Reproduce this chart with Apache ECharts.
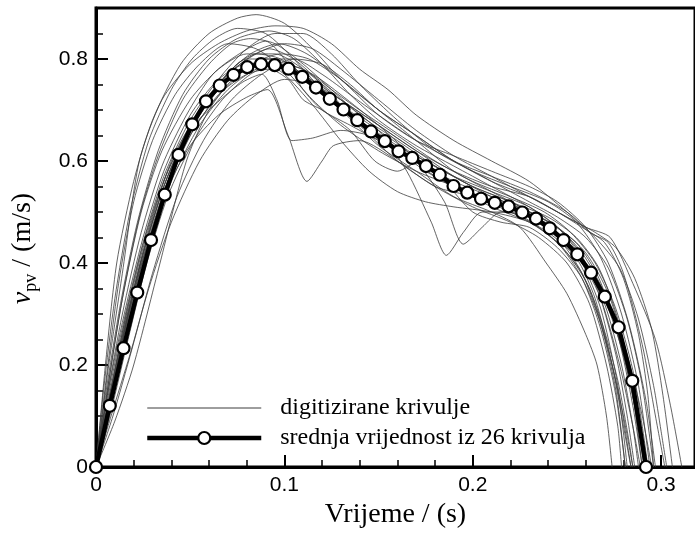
<!DOCTYPE html>
<html><head><meta charset="utf-8">
<script src="https://cdn.jsdelivr.net/npm/echarts@6/dist/echarts.min.js"></script>
<style>html,body{margin:0;padding:0;background:#fff}#c{width:695px;height:534px}</style>
</head><body><div id="c"></div>
<script>
// Mean curve (srednja vrijednost iz 26 krivulja)
const meanTime = [0, 0.0073, 0.0146, 0.0219, 0.0292, 0.0365, 0.0438, 0.0511, 0.0584, 0.0657, 0.073, 0.0803, 0.0876, 0.0949, 0.1022, 0.1095, 0.1168, 0.1241, 0.1314, 0.1387, 0.146, 0.1533, 0.1606, 0.1679, 0.1752, 0.1825, 0.1898, 0.1971, 0.2044, 0.2117, 0.219, 0.2263, 0.2336, 0.2409, 0.2482, 0.2555, 0.2628, 0.2701, 0.2774, 0.2847, 0.292];
const meanValue = [0, 0.12, 0.233, 0.342, 0.445, 0.534, 0.612, 0.672, 0.717, 0.748, 0.769, 0.784, 0.790, 0.788, 0.781, 0.765, 0.744, 0.722, 0.701, 0.680, 0.658, 0.639, 0.619, 0.606, 0.590, 0.573, 0.551, 0.538, 0.526, 0.518, 0.511, 0.499, 0.487, 0.468, 0.445, 0.417, 0.381, 0.334, 0.274, 0.169, 0];

const crv01 = [[0,0],[.005,.2],[.011,.4],[.02,.56],[.03,.68],[.045,.79],[.06,.85],[.075,.88],[.085,.887],[.1,.87],[.115,.82],[.13,.76],[.15,.70],[.17,.64],[.19,.58],[.21,.54],[.23,.50],[.245,.46],[.258,.40],[.268,.31],[.276,.18],[.284,0]];
const crv02 = [[0,0],[.006,.18],[.014,.38],[.023,.6],[.035,.72],[.05,.79],[.065,.83],[.08,.855],[.095,.865],[.11,.86],[.125,.83],[.14,.78],[.155,.74],[.17,.69],[.19,.64],[.21,.6],[.23,.56],[.25,.5],[.262,.46],[.272,.44],[.28,.38],[.29,.24],[.297,.1],[.302,0]];
const crv03 = [[0,0],[.008,.14],[.017,.3],[.027,.45],[.04,.6],[.055,.7],[.07,.77],[.085,.81],[.1,.83],[.115,.82],[.13,.78],[.15,.72],[.17,.66],[.19,.61],[.21,.57],[.23,.53],[.245,.5],[.26,.47],[.273,.45],[.285,.36],[.297,.25],[.305,.12],[.311,0]];
const crv04 = [[0,0],[.007,.12],[.016,.28],[.026,.42],[.037,.54],[.05,.63],[.065,.69],[.08,.725],[.091,.74],[.102,.65],[.112,.56],[.12,.6],[.126,.63],[.14,.64],[.16,.6],[.18,.55],[.2,.53],[.22,.5],[.24,.46],[.255,.41],[.265,.33],[.274,.2],[.28,.08],[.284,0]];
const crv05 = [[0,0],[.007,.13],[.016,.3],[.026,.45],[.038,.58],[.052,.67],[.066,.72],[.078,.755],[.088,.77],[.096,.72],[.104,.64],[.115,.645],[.13,.66],[.145,.65],[.16,.62],[.175,.58],[.19,.55],[.21,.52],[.23,.49],[.245,.45],[.258,.38],[.268,.28],[.276,.15],[.281,0]];
const crv06 = [[0,0],[.006,.15],[.014,.33],[.024,.5],[.035,.62],[.05,.72],[.065,.78],[.08,.81],[.095,.81],[.11,.78],[.13,.72],[.15,.66],[.165,.58],[.178,.48],[.186,.415],[.195,.46],[.205,.5],[.22,.5],[.235,.47],[.25,.42],[.262,.35],[.272,.23],[.28,.1],[.285,0]];
const crv07 = [[0,0],[.008,.12],[.018,.28],[.028,.42],[.04,.56],[.055,.67],[.07,.74],[.085,.78],[.1,.79],[.115,.77],[.13,.73],[.15,.67],[.17,.6],[.185,.52],[.195,.437],[.205,.47],[.215,.5],[.23,.49],[.245,.45],[.258,.4],[.268,.33],[.278,.2],[.285,.08],[.289,0]];
const crv08 = [[0,0],[.008,.1],[.018,.22],[.028,.35],[.04,.48],[.055,.6],[.07,.68],[.085,.73],[.1,.76],[.115,.75],[.13,.72],[.15,.67],[.17,.62],[.19,.57],[.21,.53],[.23,.5],[.245,.47],[.26,.42],[.272,.34],[.282,.22],[.29,.1],[.295,0]];
const crv09 = [[0,0],[.01,.09],[.02,.2],[.034,.4],[.048,.6],[.06,.7],[.075,.77],[.09,.8],[.105,.8],[.12,.77],[.135,.73],[.15,.69],[.17,.64],[.19,.6],[.21,.56],[.23,.52],[.245,.49],[.26,.45],[.272,.39],[.282,.29],[.29,.16],[.296,0]];
const crv10 = [[0,0],[.004,.15],[.01,.33],[.018,.5],[.028,.64],[.04,.74],[.051,.8],[.063,.84],[.075,.86],[.09,.85],[.105,.8],[.12,.74],[.14,.68],[.16,.63],[.18,.59],[.2,.55],[.22,.52],[.24,.48],[.255,.44],[.267,.37],[.277,.26],[.285,.12],[.29,0]];
const crv11 = [[0,0],[.006,.12],[.015,.27],[.025,.42],[.036,.55],[.05,.67],[.065,.75],[.08,.8],[.092,.82],[.105,.8],[.12,.75],[.14,.67],[.16,.6],[.18,.55],[.2,.51],[.22,.48],[.235,.45],[.25,.4],[.262,.32],[.271,.2],[.277,.08],[.279,0]];
const crv12 = [[0,0],[.006,.14],[.015,.3],[.025,.45],[.036,.58],[.05,.69],[.065,.76],[.08,.79],[.095,.79],[.11,.76],[.13,.7],[.15,.63],[.17,.58],[.19,.53],[.21,.5],[.225,.47],[.239,.4],[.25,.34],[.26,.26],[.266,.2],[.271,.1],[.274,0]];
const crv13 = [[0,0],[.006,.1],[.015,.24],[.025,.39],[.035,.52],[.05,.66],[.065,.74],[.08,.78],[.095,.79],[.11,.77],[.13,.71],[.15,.65],[.17,.6],[.19,.56],[.21,.53],[.23,.5],[.245,.46],[.26,.4],[.27,.33],[.28,.22],[.287,.1],[.292,0]];
const crv14 = [[0,0],[.007,.13],[.016,.29],[.026,.43],[.038,.57],[.052,.68],[.067,.76],[.082,.81],[.097,.83],[.112,.81],[.13,.76],[.15,.69],[.17,.64],[.19,.61],[.21,.58],[.23,.55],[.245,.52],[.26,.47],[.272,.4],[.283,.28],[.292,.13],[.297,0]];
const crv15 = [[0,0],[.007,.11],[.016,.26],[.026,.41],[.037,.55],[.05,.65],[.065,.73],[.08,.77],[.092,.78],[.102,.76],[.11,.72],[.12,.7],[.135,.66],[.148,.6],[.16,.58],[.172,.6],[.185,.56],[.2,.5],[.215,.48],[.23,.47],[.245,.43],[.258,.37],[.268,.28],[.277,.15],[.282,0]];
const crv16 = [[0,0],[.006,.13],[.015,.29],[.025,.44],[.036,.57],[.05,.68],[.065,.76],[.08,.82],[.095,.85],[.11,.85],[.125,.81],[.14,.75],[.16,.68],[.18,.62],[.2,.58],[.22,.55],[.24,.52],[.255,.48],[.268,.41],[.279,.3],[.288,.16],[.294,0]];
const crv17 = [[0,0],[.005,.16],[.012,.36],[.02,.52],[.03,.64],[.042,.73],[.055,.79],[.07,.83],[.085,.82],[.1,.78],[.115,.72],[.13,.67],[.15,.62],[.17,.58],[.19,.55],[.21,.51],[.23,.48],[.245,.44],[.258,.38],[.268,.29],[.277,.17],[.283,.05],[.285,0]];
const crv18 = [[0,0],[.009,.1],[.019,.23],[.03,.38],[.043,.53],[.057,.64],[.072,.72],[.088,.77],[.105,.8],[.12,.79],[.135,.75],[.15,.7],[.17,.65],[.19,.6],[.21,.57],[.23,.54],[.25,.5],[.265,.45],[.278,.39],[.288,.29],[.296,.16],[.3,.07],[.303,0]];
const crv19 = [[0,0],[.007,.12],[.016,.27],[.027,.43],[.039,.56],[.053,.67],[.068,.74],[.083,.79],[.098,.81],[.113,.8],[.13,.76],[.15,.7],[.17,.65],[.19,.6],[.21,.56],[.23,.53],[.25,.49],[.265,.46],[.276,.43],[.286,.37],[.295,.27],[.301,.14],[.306,0]];
const crv20 = [[0,0],[.006,.15],[.014,.33],[.023,.49],[.033,.61],[.046,.72],[.06,.79],[.072,.83],[.082,.84],[.095,.83],[.11,.79],[.125,.74],[.14,.69],[.16,.64],[.18,.59],[.2,.55],[.22,.52],[.24,.49],[.255,.45],[.267,.39],[.277,.29],[.285,.14],[.29,0]];
const crv21 = [[0,0],[.007,.12],[.016,.28],[.026,.43],[.037,.56],[.05,.66],[.065,.74],[.078,.78],[.09,.79],[.1,.77],[.115,.71],[.13,.64],[.145,.58],[.16,.54],[.175,.52],[.19,.51],[.21,.5],[.23,.48],[.245,.44],[.258,.37],[.268,.27],[.276,.14],[.281,0]];
const crv22 = [[0,0],[.006,.11],[.015,.26],[.025,.41],[.036,.54],[.05,.66],[.063,.74],[.075,.79],[.085,.81],[.098,.8],[.113,.76],[.13,.71],[.15,.66],[.17,.61],[.19,.57],[.21,.54],[.23,.51],[.245,.47],[.258,.41],[.27,.32],[.279,.2],[.285,.08],[.288,0]];
const crv23 = [[0,0],[.008,.11],[.017,.25],[.027,.4],[.038,.53],[.052,.64],[.067,.72],[.082,.77],[.095,.79],[.11,.78],[.125,.74],[.14,.7],[.16,.65],[.18,.6],[.2,.56],[.22,.53],[.238,.5],[.252,.46],[.265,.4],[.276,.31],[.285,.19],[.29,.08],[.293,0]];
const crv24 = [[0,0],[.006,.14],[.014,.3],[.024,.46],[.035,.59],[.048,.69],[.062,.77],[.076,.81],[.09,.835],[.1,.8],[.11,.74],[.12,.7],[.135,.67],[.15,.64],[.165,.61],[.18,.57],[.195,.54],[.21,.52],[.23,.5],[.245,.47],[.258,.42],[.27,.34],[.28,.22],[.287,.1],[.291,0]];
const crv25 = [[0,0],[.006,.12],[.015,.28],[.025,.43],[.036,.56],[.05,.67],[.065,.75],[.08,.8],[.095,.8],[.11,.77],[.13,.72],[.15,.67],[.17,.62],[.19,.58],[.21,.55],[.23,.53],[.245,.5],[.258,.47],[.27,.44],[.28,.37],[.288,.26],[.293,.14],[.296,0]];
const crv26 = [[0,0],[.005,.14],[.013,.32],[.022,.48],[.033,.62],[.046,.73],[.06,.8],[.075,.84],[.092,.855],[.105,.84],[.12,.79],[.135,.73],[.15,.68],[.17,.63],[.19,.59],[.21,.55],[.23,.51],[.245,.47],[.257,.42],[.267,.34],[.276,.22],[.282,.1],[.286,0]];
const digitizedCurves = [crv01,crv02,crv03,crv04,crv05,crv06,crv07,crv08,crv09,crv10,crv11,crv12,crv13,crv14,crv15,crv16,crv17,crv18,crv19,crv20,crv21,crv22,crv23,crv24,crv25,crv26];

const nameThin = 'digitizirane krivulje';
const nameMean = 'srednja vrijednost iz 26 krivulja';
const xAxisTitle = 'Vrijeme / (s)';

const X_MIN = 0, X_MAX = 0.318, Y_MIN = 0, Y_MAX = 0.9;
const sans = 'Liberation Sans, Arial, sans-serif';
const serif = 'Liberation Serif, Times New Roman, serif';

const chart = echarts.init(document.getElementById('c'), null, {renderer: 'canvas'});

const series = digitizedCurves.map(c => ({
  type: 'line', name: nameThin, data: c, symbol: 'none', smooth: 0.25,
  lineStyle: {color: '#3c3c3c', width: 0.8}, itemStyle: {color: '#3c3c3c'},
  xAxisIndex: 0, yAxisIndex: 0, z: 2, silent: true
}));
series.push({
  type: 'line', name: nameMean,
  data: meanTime.map((t, i) => [t, meanValue[i]]),
  symbol: 'circle', symbolSize: 12, showAllSymbol: true, clip: false,
  lineStyle: {color: '#000', width: 4.5},
  itemStyle: {color: '#fff', borderColor: '#000', borderWidth: 2.2},
  xAxisIndex: 0, yAxisIndex: 0, z: 5
});

const common = {type: 'value', splitLine: {show: false}};
chart.setOption({
  animation: false,
  backgroundColor: '#fff',
  grid: {left: 96, top: 8, width: 600, height: 464, show: true, borderColor: '#000', borderWidth: 3, backgroundColor: 'transparent'},
  legend: {
    orient: 'vertical', left: 140, top: 391, itemWidth: 114, itemHeight: 15, itemGap: 6,
    textStyle: {fontFamily: serif, fontSize: 24, color: '#000', padding: [0, 0, 0, 14]},
    data: [
      {name: nameThin, itemStyle: {color: 'rgba(0,0,0,0)', borderWidth: 0, opacity: 0}, lineStyle: {color: '#3c3c3c', width: 1}},
      {name: nameMean, lineStyle: {color: '#000', width: 4.5}, itemStyle: {color: '#fff', borderColor: '#000', borderWidth: 2.2}}
    ],
    selectedMode: false
  },
  xAxis: [
    Object.assign({}, common, {
      min: X_MIN, max: X_MAX, interval: 0.1, position: 'bottom',
      axisLine: {show: true, lineStyle: {color: '#000', width: 3}},
      axisTick: {show: true, inside: true, length: 12, lineStyle: {color: '#000', width: 2}},
      axisLabel: {fontFamily: sans, fontSize: 21, color: '#000', margin: 8, showMaxLabel: false},
      name: xAxisTitle, nameLocation: 'middle', nameGap: 34,
      nameTextStyle: {fontFamily: serif, fontSize: 28, color: '#000'}
    }),
    Object.assign({}, common, {
      min: X_MIN, max: X_MAX, interval: 0.02, position: 'bottom', offset: 0,
      axisLine: {show: false},
      axisTick: {show: true, inside: true, length: 7, lineStyle: {color: '#000', width: 1.5}},
      axisLabel: {show: false}
    })
  ],
  yAxis: [
    Object.assign({}, common, {
      min: Y_MIN, max: Y_MAX, interval: 0.2, position: 'left',
      axisLine: {show: true, lineStyle: {color: '#000', width: 3}},
      axisTick: {show: true, inside: true, length: 12, lineStyle: {color: '#000', width: 2}},
      axisLabel: {fontFamily: sans, fontSize: 21, color: '#000', margin: 8, showMaxLabel: false},
      name: '{v|v}{pv|pv}{n| / (m/s)}', nameLocation: 'middle', nameGap: 56, nameRotate: 90,
      nameTextStyle: {
        fontFamily: serif, fontSize: 28, color: '#000', padding: [0, 22, 0, 0],
        rich: {
          v: {fontFamily: serif, fontStyle: 'italic', fontSize: 28, lineHeight: 34, verticalAlign: 'middle'},
          pv: {fontFamily: serif, fontSize: 18, lineHeight: 18, verticalAlign: 'bottom'},
          n: {fontFamily: serif, fontSize: 28, lineHeight: 34, verticalAlign: 'middle'}
        }
      }
    }),
    Object.assign({}, common, {
      min: Y_MIN, max: Y_MAX, interval: 0.05, position: 'left', offset: 0,
      axisLine: {show: false},
      axisTick: {show: true, inside: true, length: 7, lineStyle: {color: '#000', width: 1.5}},
      axisLabel: {show: false}
    })
  ],
  series: series
});
</script>
</body></html>
